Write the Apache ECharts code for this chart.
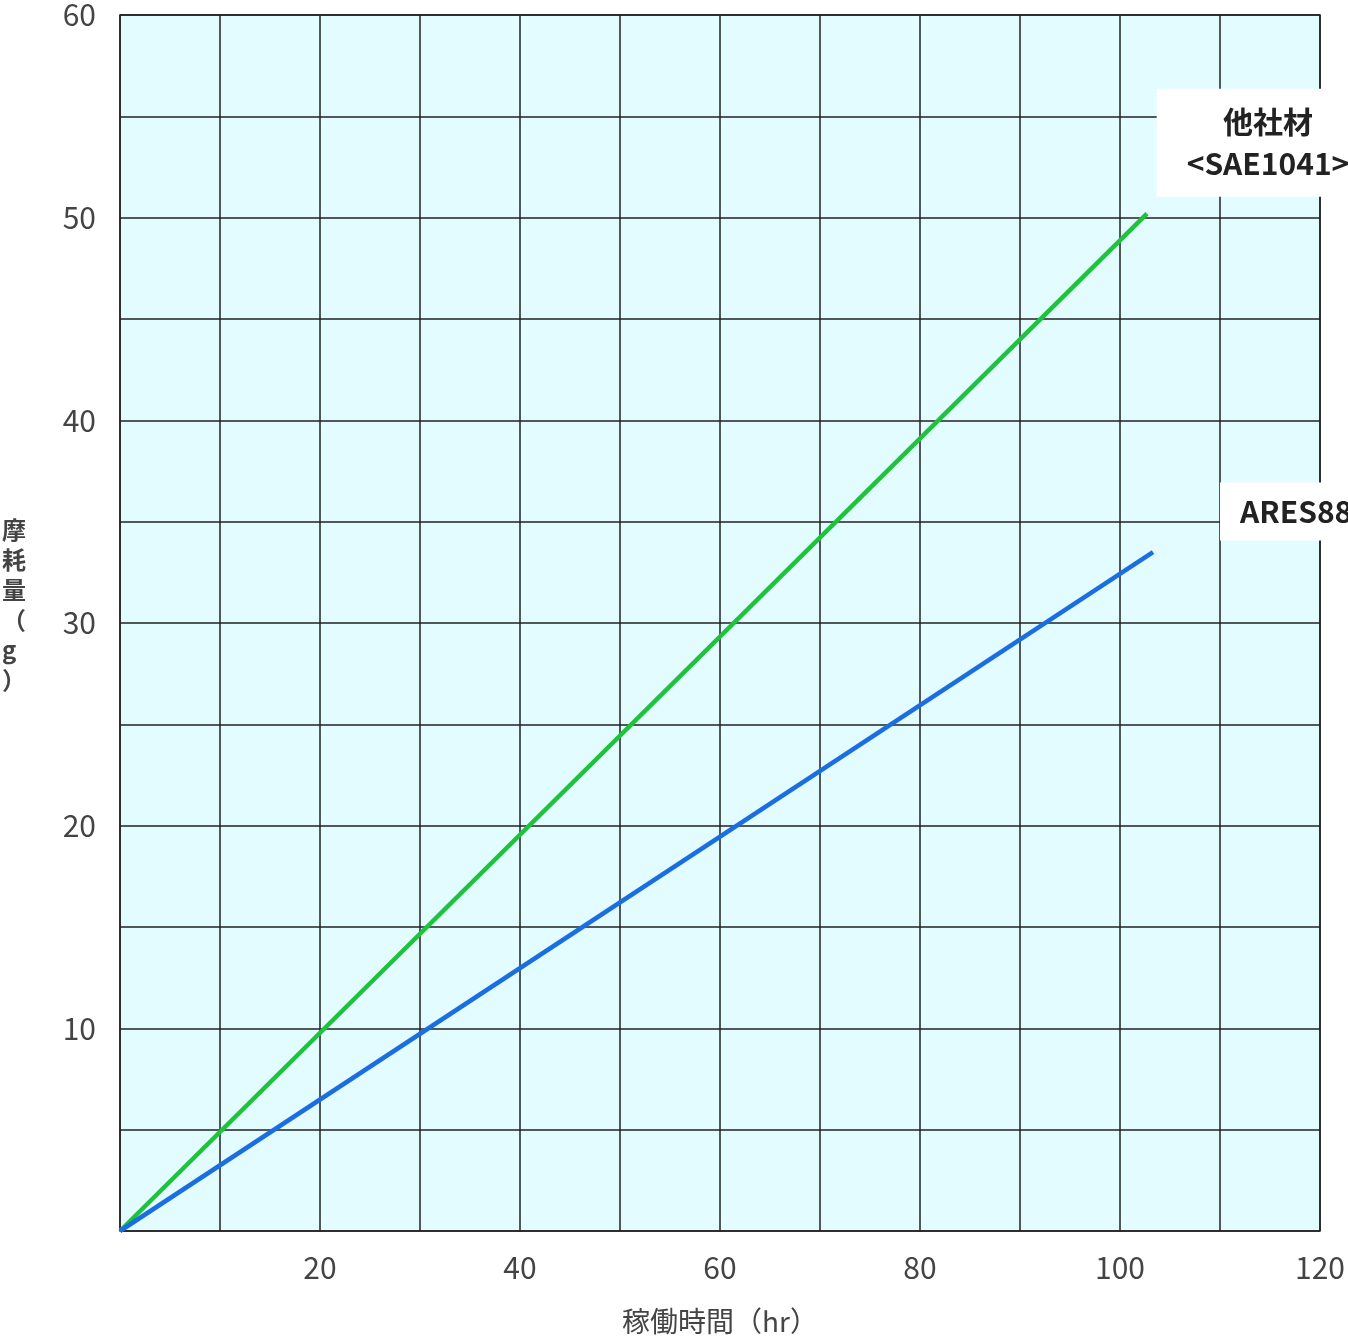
<!DOCTYPE html>
<html><head><meta charset="utf-8">
<script src="https://cdn.jsdelivr.net/npm/echarts@6/dist/echarts.min.js"></script>
<style>html,body{margin:0;padding:0;background:#fff}#c{width:1348px;height:1340px}</style>
</head><body><div id="c"></div>
<script>
const xAxisName = '稼働時間（hr）';
const yAxisName = '摩耗量（g）';
const otherName = '他社材\n<SAE1041>';
const aresName = 'ARES880';
const otherData = [[0,0],[102.7,50.2]];
const aresData = [[0,0],[103.3,33.5]];
const otherLabelAt = [114.8,53.7];
const aresLabelAt = [118.5,35.5];
const ff = '"Noto Sans CJK JP", "Noto Sans", sans-serif';
const chart = echarts.init(document.getElementById('c'));
const lbl = {show:true, fontFamily:ff, fontSize:30, fontWeight:'bold', color:'#222', backgroundColor:'#fff', padding:[12,30,12,30], lineHeight:42};
chart.setOption({
  animation:false,
  grid:{left:120,right:28,top:12,bottom:108,show:true,backgroundColor:'#e2fcff',borderColor:'#222',borderWidth:1.5},
  xAxis:{type:'value',min:0,max:120,interval:10,
    name:xAxisName,nameLocation:'middle',nameGap:76,nameTextStyle:{fontFamily:ff,fontSize:28,color:'#444'},
    axisLine:{show:false},axisTick:{show:false},
    axisLabel:{fontFamily:ff,fontSize:30,color:'#444',margin:22,formatter:v=>(v%20===0&&v>0)?v:''},
    splitLine:{lineStyle:{color:'#222',width:1.5}}},
  yAxis:{type:'value',min:0,max:60,interval:5,
    axisLine:{show:false},axisTick:{show:false},
    axisLabel:{fontFamily:ff,fontSize:30,color:'#444',margin:24,formatter:v=>(v%10===0&&v>0)?v:''},
    splitLine:{lineStyle:{color:'#222',width:1.5}}},
  graphic:[{type:'text',left:2,top:515,style:{text:yAxisName.split('').join('\n'),fontFamily:ff,fontSize:24,fontWeight:'bold',fill:'#444',lineHeight:30}}],
  series:[
    {type:'line',data:otherData,symbol:'none',lineStyle:{color:'#1ec23c',width:4.5},
     markPoint:{symbol:'rect',symbolSize:1,itemStyle:{color:'transparent'},label:Object.assign({},lbl,{position:'inside',formatter:otherName}),data:[{coord:otherLabelAt}]}},
    {type:'line',data:aresData,symbol:'none',lineStyle:{color:'#1a6ee0',width:4.5},
     markPoint:{symbol:'rect',symbolSize:1,itemStyle:{color:'transparent'},label:Object.assign({},lbl,{position:'inside',formatter:aresName,padding:[8,20,8,20]}),data:[{coord:aresLabelAt}]}}
  ]
});
</script></body></html>
